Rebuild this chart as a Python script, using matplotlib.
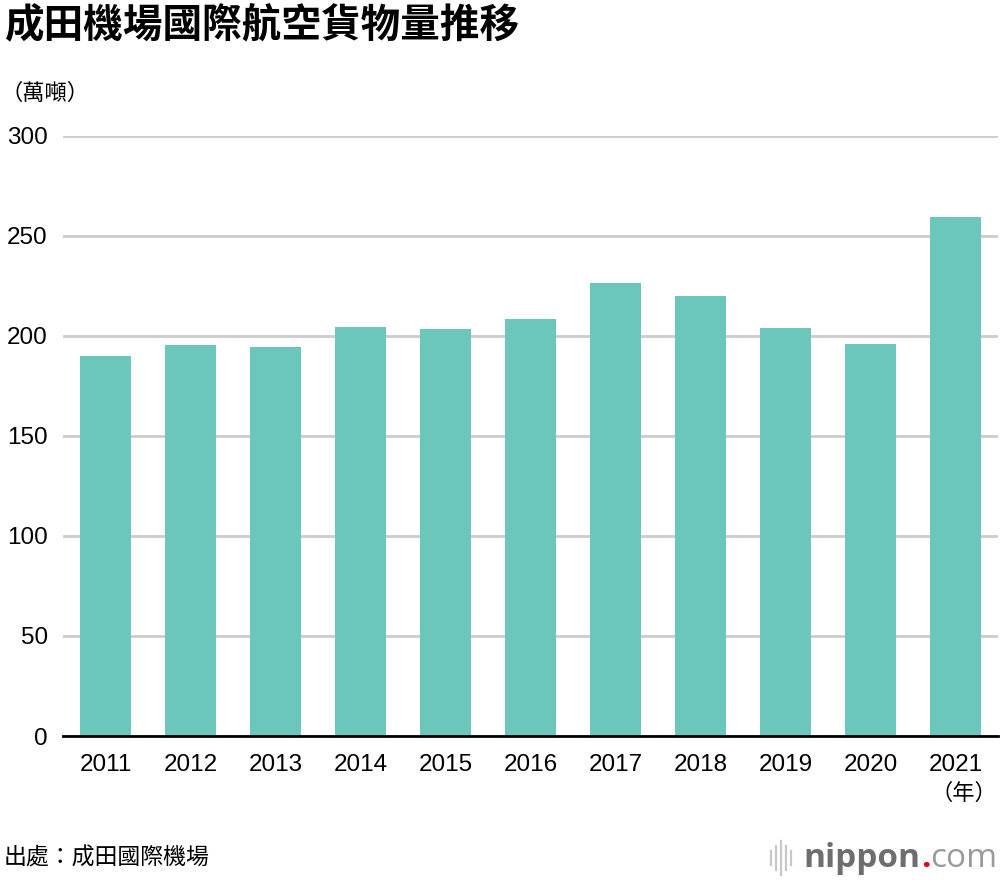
import matplotlib
matplotlib.use("Agg")
import matplotlib.pyplot as plt
from matplotlib.lines import Line2D

plt.rcParams["font.family"] = ["Liberation Sans", "Noto Sans CJK TC", "DejaVu Sans"]

# data (萬噸)
years = ["2011", "2012", "2013", "2014", "2015", "2016",
         "2017", "2018", "2019", "2020", "2021"]
cargo = [190, 195.5, 194.5, 204.5, 203.5, 208.5, 226.5, 220, 204, 196, 259.5]
yticks = [0, 50, 100, 150, 200, 250, 300]

BAR = "#6bc6bb"
CJK = ["Noto Sans CJK TC", "DejaVu Sans"]
LOGO = ["Open Sans", "DejaVu Sans"]

fig = plt.figure(figsize=(10, 8.8), dpi=100)
ax = fig.add_axes([0.063, (880 - 736) / 880, 0.935, 600 / 880])

x = range(len(years))
ax.bar(x, cargo, width=0.6, color=BAR, zorder=3)
ax.set_xlim(-0.5, len(years) - 0.5)
ax.set_ylim(0, 300)
ax.set_yticks(yticks)
ax.set_xticks(list(x))
ax.set_xticklabels(years)
ax.yaxis.grid(True, color="#cccccc", linewidth=2, zorder=0)
for s in ("top", "right", "left"):
    ax.spines[s].set_visible(False)
ax.spines["bottom"].set_linewidth(2)
ax.spines["bottom"].set_color("black")
ax.spines["bottom"].set_zorder(4)
ax.tick_params(axis="both", length=0, labelsize=17.5, colors="black")
ax.tick_params(axis="y", pad=11)
ax.tick_params(axis="x", pad=13)

fig.text(0.004, 0.972, "成田機場國際航空貨物量推移", fontsize=28.5, fontweight="bold",
         family=CJK, va="center", ha="left")
fig.text(0.0, 0.894, "（萬噸）", fontsize=16, family=CJK, va="center", ha="left")
fig.text(0.997, 0.098, "（年）", fontsize=16, family=CJK, va="center", ha="right")
fig.text(0.004, 0.025, "出處：成田國際機場", fontsize=16.5, family=CJK,
         va="center", ha="left")

# nippon.com logo, pieces placed one after another
fig.canvas.draw()
r = fig.canvas.get_renderer()
t1 = fig.text(0.803, 0.024, "nippon", fontsize=24, fontweight="bold", color="#6e6e6e",
              family=LOGO, va="center", ha="left")
e1 = t1.get_window_extent(r)
x2 = fig.transFigure.inverted().transform((e1.x1 + 1, 0))[0]
t2 = fig.text(x2, 0.024, ".", fontsize=24, fontweight="bold", color="#e60012",
              family=LOGO, va="center", ha="left")
e2 = t2.get_window_extent(r)
x3 = fig.transFigure.inverted().transform((e2.x1, 0))[0]
fig.text(x3, 0.024, "com", fontsize=24, color="#9a9a9a",
         family=LOGO, va="center", ha="left")
icon_x = [0.771, 0.776, 0.781, 0.786, 0.791]
icon_h = [0.008, 0.014, 0.019, 0.014, 0.008]
for xi, hi in zip(icon_x, icon_h):
    fig.add_artist(Line2D([xi, xi], [0.025 - hi, 0.025 + hi], color="#c8c8c8",
                          linewidth=1.6, transform=fig.transFigure))

fig.savefig("out.png", dpi=100, facecolor="white")
